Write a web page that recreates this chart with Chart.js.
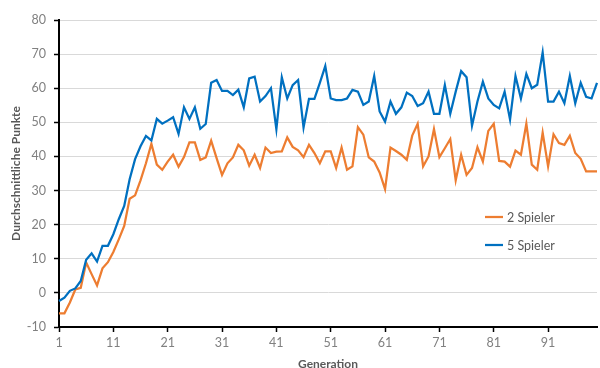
<!DOCTYPE html>
<html>
<head>
<meta charset="utf-8">
<style>
  html, body { margin: 0; padding: 0; background: #ffffff; }
  #wrap { width: 600px; height: 368px; }
</style>
<script src="https://cdn.jsdelivr.net/npm/chart.js@4.4.1/dist/chart.umd.min.js"></script>
</head>
<body>
<div id="wrap"><canvas id="chart" width="600" height="368"></canvas></div>
<script>
// Generations 1..100 on the category axis
const generations = Array.from({ length: 100 }, (_, i) => i + 1);

// Average points per generation, 2 players
const spieler2 = [
  -6, -6, -2.8, 1, 1.5, 8.9, 5.5, 2.2, 7.2, 9,
  12, 15.7, 19.6, 27.6, 28.6, 33, 38, 43.7, 37.6, 36.1,
  38.5, 40.5, 37, 39.8, 44.1, 44.1, 39, 39.7, 44.6, 39.5,
  34.6, 38, 39.7, 43.4, 41.8, 37.3, 40.5, 36.6, 42.6, 41,
  41.4, 41.5, 45.6, 42.8, 41.8, 39.8, 43.4, 41, 38, 41.5,
  41.5, 36.6, 42.6, 36.1, 37.1, 48.6, 46.4, 39.7, 38.5, 35.3,
  30.4, 42.6, 41.6, 40.5, 39, 46.1, 49.6, 37.1, 40, 48,
  39.8, 42.4, 45.1, 33, 40.5, 34.6, 36.6, 42.7, 38.5, 47.5,
  49.6, 38.7, 38.5, 37, 41.7, 40.5, 49.6, 37.6, 36.1, 47,
  37.1, 46.5, 43.9, 43.4, 46.1, 41, 39.3, 35.6, 35.6, 35.6
];

// Average points per generation, 5 players
const spieler5 = [
  -2.4, -1.4, 0.6, 1.3, 3.5, 9.7, 11.6, 9.2, 13.8, 13.8,
  17.2, 21.6, 25.5, 33.3, 39.2, 43, 46, 44.7, 51, 49.6,
  50.5, 51.5, 46.6, 54.4, 51, 54.4, 48.1, 49.5, 61.6, 62.4,
  59.2, 59.2, 58, 59.6, 54.4, 62.9, 63.4, 56.1, 57.7, 60,
  48, 63.2, 57, 60.9, 62.4, 48.5, 56.9, 56.9, 61.6, 66.5,
  57, 56.5, 56.5, 57, 59.5, 59, 55.1, 56.1, 63.6, 53.2,
  50.2, 56.1, 52.5, 54.4, 58.7, 57.7, 54.8, 55.6, 59, 52.5,
  52.5, 60.9, 52.5, 59, 65, 63.2, 49, 56.1, 61.9, 57,
  55.1, 54.1, 59, 50.8, 63.6, 57, 64.2, 60, 61, 70.5,
  56.1, 56.1, 59, 55.6, 63.6, 55.6, 61.6, 57.5, 57, 61.6
];

const seriesNames = ['2 Spieler', '5 Spieler'];
const seriesColors = ['#ED7D31', '#0070C0'];

const FONT = 'Lato, "Open Sans", "Liberation Sans", sans-serif';

// Legend drawn inside the plot area, right side
const innerLegend = {
  id: 'innerLegend',
  afterDraw(chart) {
    const ctx = chart.ctx;
    const items = chart.data.datasets;
    const x0 = 485, lineLen = 18, y0 = 217, gap = 28;
    ctx.save();
    ctx.font = '12.5px ' + FONT;
    ctx.textBaseline = 'middle';
    ctx.textAlign = 'left';
    items.forEach((ds, i) => {
      const y = y0 + i * gap;
      ctx.strokeStyle = ds.borderColor;
      ctx.lineWidth = 2.25;
      ctx.beginPath();
      ctx.moveTo(x0, y);
      ctx.lineTo(x0 + lineLen, y);
      ctx.stroke();
      ctx.fillStyle = '#595959';
      ctx.fillText(ds.label, x0 + lineLen + 4, y + 0.5);
    });
    ctx.restore();
  }
};

new Chart(document.getElementById('chart'), {
  type: 'line',
  data: {
    labels: generations,
    datasets: [
      {
        label: seriesNames[0],
        data: spieler2,
        borderColor: seriesColors[0],
        backgroundColor: seriesColors[0],
        borderWidth: 2.25,
        pointRadius: 0,
        tension: 0,
        fill: false,
        order: 1
      },
      {
        label: seriesNames[1],
        data: spieler5,
        borderColor: seriesColors[1],
        backgroundColor: seriesColors[1],
        borderWidth: 2.25,
        pointRadius: 0,
        tension: 0,
        fill: false,
        order: 0
      }
    ]
  },
  options: {
    responsive: false,
    maintainAspectRatio: false,
    animation: false,
    layout: { padding: { top: 20, right: 3, bottom: 0, left: 0 } },
    plugins: {
      legend: { display: false },
      tooltip: { enabled: false }
    },
    scales: {
      x: {
        type: 'category',
        offset: false,
        border: { display: true, color: '#000000', width: 2 },
        grid: {
          display: true,
          drawOnChartArea: false,
          drawTicks: true,
          tickLength: 5,
          tickWidth: 1.5,
          tickColor: (c) => (c.index % 10 === 0 ? '#000000' : 'rgba(0,0,0,0)')
        },
        ticks: {
          autoSkip: false,
          maxRotation: 0,
          minRotation: 0,
          padding: 3,
          color: '#808080',
          font: { family: FONT, size: 12.5 },
          callback: function (value, index) {
            return index % 10 === 0 ? this.getLabelForValue(value) : '';
          }
        },
        title: {
          display: true,
          text: 'Generation',
          color: '#595959',
          font: { family: FONT, size: 12, weight: 'bold', lineHeight: 0.6 },
          padding: { top: 0, bottom: 0 }
        },
        afterFit: (scale) => { scale.height = 41; }
      },
      y: {
        min: -10,
        max: 80,
        border: { display: true, color: '#000000', width: 2 },
        grid: {
          color: '#d9d9d9',
          lineWidth: 1,
          drawTicks: true,
          tickLength: 5,
          tickColor: '#000000',
          tickWidth: 1.5
        },
        ticks: {
          stepSize: 10,
          padding: 8,
          color: '#808080',
          font: { family: FONT, size: 12.5 }
        },
        title: {
          display: true,
          text: 'Durchschnittliche Punkte',
          color: '#595959',
          font: { family: FONT, size: 12, weight: 'bold' },
          padding: { top: 9, bottom: 0 }
        },
        afterFit: (scale) => { scale.width = 59; }
      }
    }
  },
  plugins: [innerLegend]
});
</script>
</body>
</html>
